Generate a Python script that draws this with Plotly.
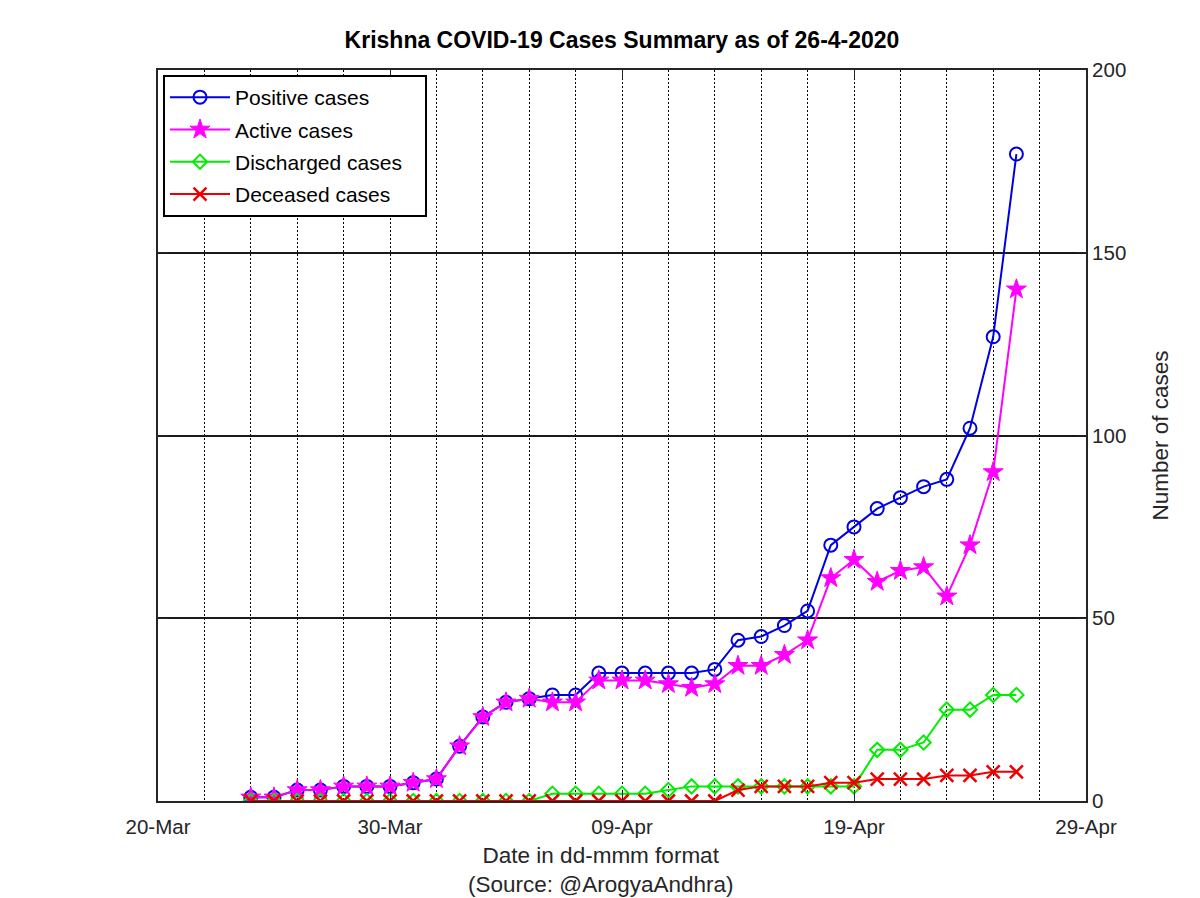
import plotly.graph_objects as go

dates = [
    "2020-03-24", "2020-03-25", "2020-03-26", "2020-03-27", "2020-03-28", "2020-03-29",
    "2020-03-30", "2020-03-31", "2020-04-01", "2020-04-02", "2020-04-03", "2020-04-04",
    "2020-04-05", "2020-04-06", "2020-04-07", "2020-04-08", "2020-04-09", "2020-04-10",
    "2020-04-11", "2020-04-12", "2020-04-13", "2020-04-14", "2020-04-15", "2020-04-16",
    "2020-04-17", "2020-04-18", "2020-04-19", "2020-04-20", "2020-04-21", "2020-04-22",
    "2020-04-23", "2020-04-24", "2020-04-25", "2020-04-26",
]
positive = [1, 1, 3, 3, 4, 4, 4, 5, 6, 15, 23, 27, 28, 29, 29, 35, 35, 35, 35, 35, 36,
            44, 45, 48, 52, 70, 75, 80, 83, 86, 88, 102, 127, 177]
active = [1, 1, 3, 3, 4, 4, 4, 5, 6, 15, 23, 27, 28, 27, 27, 33, 33, 33, 32, 31, 32,
          37, 37, 40, 44, 61, 66, 60, 63, 64, 56, 70, 90, 140]
discharged = [0, 0, 0, 0, 0, 0, 0, 0, 0, 0, 0, 0, 0, 2, 2, 2, 2, 2, 3, 4, 4,
              4, 4, 4, 4, 4, 4, 14, 14, 16, 25, 25, 29, 29]
deceased = [0, 0, 0, 0, 0, 0, 0, 0, 0, 0, 0, 0, 0, 0, 0, 0, 0, 0, 0, 0, 0,
            3, 4, 4, 4, 5, 5, 6, 6, 6, 7, 7, 8, 8]

FONT = "Liberation Sans"
DAY = 86400000
PAD = "\u00a0\u00a0\u00a0"

# page body has an 8px margin; figure is sized to fit the 1200x898 window
OFF = 8
W, H = 1200 - OFF, 898 - OFF
L, T, R, B = 158 - OFF, 70 - OFF, 1200 - 1086, 898 - 801
PW, PH = 1086 - 158, 801 - 70

fig = go.Figure()
fig.add_trace(go.Scatter(
    x=dates, y=positive, name="Positive cases" + PAD, mode="lines+markers", legendgroup="a",
    line=dict(color="#0000e6", width=2),
    marker=dict(symbol="circle-open", size=13, color="#0000e6", line=dict(width=2, color="#0000e6")),
))
fig.add_trace(go.Scatter(
    x=dates, y=active, name="Active cases" + PAD, mode="lines+markers", legendgroup="b",
    line=dict(color="#ff00ff", width=2),
    marker=dict(symbol="star", size=15, color="#ff00ff", line=dict(width=1, color="#ff00ff")),
))
fig.add_trace(go.Scatter(
    x=dates, y=discharged, name="Discharged cases" + PAD, mode="lines+markers", legendgroup="c",
    line=dict(color="#00ee00", width=2),
    marker=dict(symbol="diamond-open", size=11, color="#00ee00", line=dict(width=2, color="#00ee00")),
))
fig.add_trace(go.Scatter(
    x=dates, y=deceased, name="Deceased cases" + PAD, mode="lines+markers", legendgroup="d",
    line=dict(color="#ee0000", width=2),
    marker=dict(symbol="x-thin-open", size=13, color="#ee0000", line=dict(width=2.5, color="#ee0000")),
))

fig.update_layout(
    width=W, height=H,
    margin=dict(l=L, r=R, t=T, b=B),
    paper_bgcolor="white", plot_bgcolor="white",
    font=dict(family=FONT, size=20.5, color="#262626"),
    title=dict(text="<b>Krishna COVID-19 Cases Summary as of 26-4-2020</b>",
               x=(622 - OFF) / W, xanchor="center", y=1 - (40 - OFF) / H, yanchor="middle",
               xref="container", yref="container",
               font=dict(family=FONT, size=23, color="black")),
    showlegend=True,
    legend=dict(x=(163 - 158) / PW, y=1 - (75 - 70) / PH, xanchor="left", yanchor="top",
                bgcolor="white", bordercolor="black", borderwidth=2,
                font=dict(family=FONT, size=21, color="black"),
                traceorder="grouped", tracegroupgap=2, itemwidth=60),
    xaxis=dict(
        type="date", range=["2020-03-20", "2020-04-29"],
        tick0="2020-03-20", dtick=10 * DAY, tickformat="%d-%b",
        ticks="inside", ticklen=9, tickcolor="#262626", tickwidth=1,
        showline=True, linecolor="#262626", linewidth=2, mirror="ticks",
        showgrid=True, gridcolor="black", griddash="2px,2px", gridwidth=1.3,
        minor=dict(tick0="2020-03-20", dtick=2 * DAY, showgrid=True,
                   gridcolor="black", griddash="2px,2px", gridwidth=1.3),
        zeroline=False, ticklabelstandoff=6,
    ),
    yaxis=dict(
        side="right", range=[0, 200], tick0=0, dtick=50,
        ticks="inside", ticklen=9, tickcolor="#262626",
        showline=True, linecolor="#262626", linewidth=2, mirror="ticks",
        showgrid=True, gridcolor="#1a1a1a", gridwidth=1.6, zeroline=False,
    ),
    annotations=[
        dict(text="Date in dd-mmm format<br>(Source: @ArogyaAndhra)", xref="paper", yref="paper",
             x=(600 - 158) / PW, y=-(841 - 801) / PH, xanchor="center", yanchor="top",
             showarrow=False, font=dict(family=FONT, size=22.5, color="#262626")),
        dict(text="Number of cases", xref="paper", yref="paper", textangle=-90,
             x=(1160 - 158) / PW, y=0.5, xanchor="center", yanchor="middle",
             showarrow=False, font=dict(family=FONT, size=22.5, color="#262626")),
    ],
)

fig.write_html("out.html")
